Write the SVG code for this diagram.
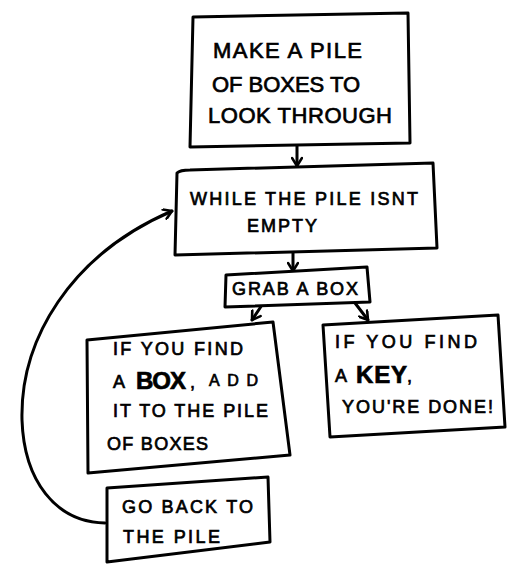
<svg xmlns="http://www.w3.org/2000/svg" width="519" height="582" viewBox="0 0 519 582">
  <style>
    .box { fill: #fff; stroke: #000; stroke-width: 3; stroke-linejoin: round; }
    .lbl { font-family: "Liberation Sans", "DejaVu Sans", sans-serif; font-size: 18px; fill: #000; stroke: #000; stroke-width: 0.7; }
    .big { font-size: 22px; }
    .sm { font-size: 16px; }
    .em { font-weight: bold; font-size: 24px; }
    .edge { fill: none; stroke: #000; stroke-width: 3; stroke-linecap: round; marker-end: url(#head); }
  </style>
  <defs>
    <marker id="head" viewBox="0 0 12 12" refX="10" refY="6" markerWidth="12" markerHeight="12" markerUnits="userSpaceOnUse" orient="auto">
      <path d="M2,1 L10,6 L2,11" fill="none" stroke="#000" stroke-width="2.6" stroke-linecap="round" stroke-linejoin="round"/>
    </marker>
  </defs>
  <rect width="519" height="582" fill="#fff"/>

  <g id="connectors">
    <path class="edge" d="M297,146 L297,166"/>
    <path class="edge" d="M293,252 L293,271"/>
    <path class="edge" d="M262,305 L252,320"/>
    <path class="edge" d="M355,303 L368,320"/>
    <path class="edge" d="M105,523 C55,522 24,480 22,420 C20,340 70,255 172,211"/>
  </g>

  <g id="make-pile">
    <path class="box" d="M193,17 L408,13 L410,143 L190,147 Z"/>
    <text class="lbl big" x="213" y="58" textLength="149" lengthAdjust="spacing">MAKE A PILE</text>
    <text class="lbl big" x="212" y="92" textLength="148" lengthAdjust="spacing">OF BOXES TO</text>
    <text class="lbl big" x="208" y="123" textLength="184" lengthAdjust="spacing">LOOK THROUGH</text>
  </g>

  <g id="while-loop">
    <path class="box" d="M177,173 Q180,170 190,170 L433,163 L437,248 L175,255 Z"/>
    <text class="lbl" x="190" y="205" textLength="228" lengthAdjust="spacing">WHILE THE PILE ISNT</text>
    <text class="lbl" x="247" y="232" textLength="70" lengthAdjust="spacing">EMPTY</text>
  </g>

  <g id="grab-box">
    <path class="box" d="M226,275 L367,267 L370,302 L225,307 Z"/>
    <text class="lbl" x="232" y="295" textLength="126" lengthAdjust="spacing">GRAB A BOX</text>
  </g>

  <g id="found-box">
    <path class="box" d="M87,340 L273,322 L290,455 L88,473 Z"/>
    <text class="lbl" x="113" y="355" textLength="130" lengthAdjust="spacing">IF YOU FIND</text>
    <text class="lbl" x="113" y="388">A</text>
    <text class="lbl em" x="136" y="389" textLength="50" lengthAdjust="spacing">BOX</text>
    <text class="lbl" x="190" y="388">,</text>
    <text class="lbl sm" x="209" y="386" textLength="49" lengthAdjust="spacing">ADD</text>
    <text class="lbl" x="113" y="417" textLength="155" lengthAdjust="spacing">IT TO THE PILE</text>
    <text class="lbl" x="107" y="450" textLength="101" lengthAdjust="spacing">OF BOXES</text>
  </g>

  <g id="found-key">
    <path class="box" d="M323,325 L498,315 L505,427 L330,437 Z"/>
    <text class="lbl" x="335" y="348" textLength="142" lengthAdjust="spacing">IF YOU FIND</text>
    <text class="lbl" x="335" y="382">A</text>
    <text class="lbl em" x="356" y="383" textLength="51" lengthAdjust="spacing">KEY</text>
    <text class="lbl" x="407" y="382">,</text>
    <text class="lbl" x="342" y="413" textLength="151" lengthAdjust="spacing">YOU'RE DONE!</text>
  </g>

  <g id="go-back">
    <path class="box" d="M107,488 L268,477 L270,542 L107,562 Z"/>
    <text class="lbl" x="122" y="513" textLength="131" lengthAdjust="spacing">GO BACK TO</text>
    <text class="lbl" x="123" y="543" textLength="97" lengthAdjust="spacing">THE PILE</text>
  </g>
</svg>
